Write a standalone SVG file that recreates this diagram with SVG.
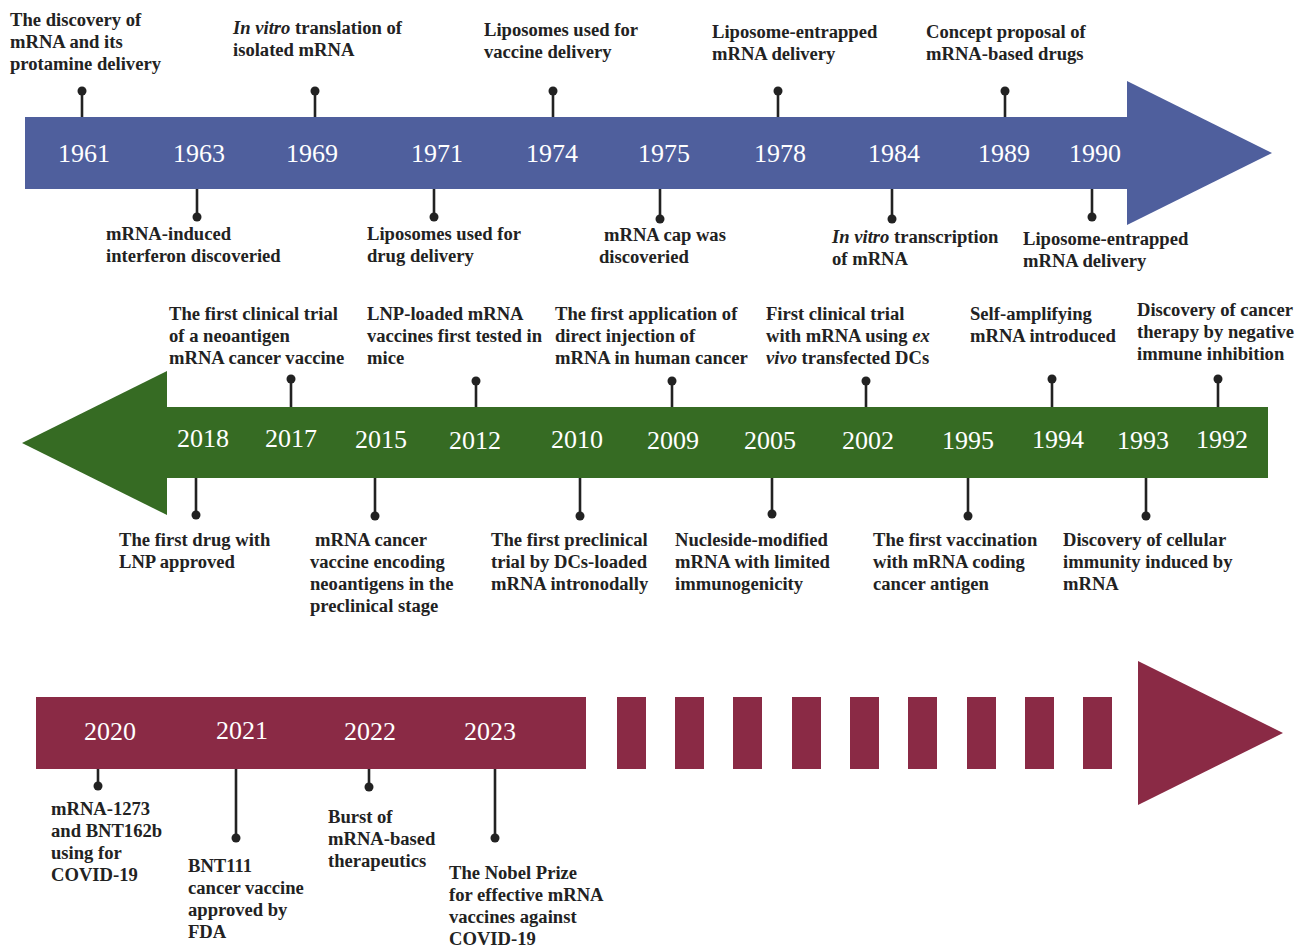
<svg xmlns="http://www.w3.org/2000/svg" width="1306" height="948" viewBox="0 0 1306 948">
<style>
.lbl{font-family:"Liberation Serif","Times New Roman",serif;font-weight:bold;font-size:18.6px;fill:#222}
.yr{font-family:"Liberation Serif","Times New Roman",serif;font-size:26px;fill:#fff;text-anchor:middle}
.pin{stroke:#222;stroke-width:2.6;fill:none}
.dot{fill:#222}
.blue{fill:#4F5F9D}
.green{fill:#366B23}
.maroon{fill:#8A2A45}
</style>
<rect width="1306" height="948" fill="#fff"/>

<g id="arrow-top">
<rect class="blue" x="25" y="117" width="1103" height="72"/>
<polygon class="blue" points="1127,81 1272,153 1127,225"/>
</g>
<g id="arrow-middle">
<rect class="green" x="166" y="407" width="1102" height="71"/>
<polygon class="green" points="167,371 22,443 167,515"/>
</g>
<g id="arrow-bottom">
<rect class="maroon" x="36" y="697" width="550" height="72"/>
<rect class="maroon" x="617" y="697" width="29" height="72"/>
<rect class="maroon" x="675" y="697" width="29" height="72"/>
<rect class="maroon" x="733" y="697" width="29" height="72"/>
<rect class="maroon" x="792" y="697" width="29" height="72"/>
<rect class="maroon" x="850" y="697" width="29" height="72"/>
<rect class="maroon" x="908" y="697" width="29" height="72"/>
<rect class="maroon" x="967" y="697" width="29" height="72"/>
<rect class="maroon" x="1025" y="697" width="29" height="72"/>
<rect class="maroon" x="1083" y="697" width="29" height="72"/>
<polygon class="maroon" points="1138,661 1283,733 1138,805"/>
</g>

<g id="connectors">
<path class="pin" d="M82,117V91 M315,117V91 M553,117V91 M778,117V91 M1005,117V91"/>
<path class="pin" d="M197,189V217 M434,189V217 M660,189V219 M892,189V219 M1092,189V217"/>
<path class="pin" d="M291,407V379 M476,407V381 M672,407V381 M866,407V381 M1052,407V379 M1218,407V379"/>
<path class="pin" d="M196,478V515 M375,478V516 M580,478V516 M772,478V514 M968,478V516 M1146,478V516"/>
<path class="pin" d="M98,769V786 M236,769V838 M369,769V787 M495,769V838"/>
<g class="dot">
<circle cx="82" cy="91" r="4.5"/><circle cx="315" cy="91" r="4.5"/><circle cx="553" cy="91" r="4.5"/><circle cx="778" cy="91" r="4.5"/><circle cx="1005" cy="91" r="4.5"/>
<circle cx="197" cy="217" r="4.5"/><circle cx="434" cy="217" r="4.5"/><circle cx="660" cy="219" r="4.5"/><circle cx="892" cy="219" r="4.5"/><circle cx="1092" cy="217" r="4.5"/>
<circle cx="291" cy="379" r="4.5"/><circle cx="476" cy="381" r="4.5"/><circle cx="672" cy="381" r="4.5"/><circle cx="866" cy="381" r="4.5"/><circle cx="1052" cy="379" r="4.5"/><circle cx="1218" cy="379" r="4.5"/>
<circle cx="196" cy="515" r="4.5"/><circle cx="375" cy="516" r="4.5"/><circle cx="580" cy="516" r="4.5"/><circle cx="772" cy="514" r="4.5"/><circle cx="968" cy="516" r="4.5"/><circle cx="1146" cy="516" r="4.5"/>
<circle cx="98" cy="786" r="4.5"/><circle cx="236" cy="838" r="4.5"/><circle cx="369" cy="787" r="4.5"/><circle cx="495" cy="838" r="4.5"/>
</g>
</g>

<g id="years-top">
<text class="yr" x="84" y="162">1961</text>
<text class="yr" x="199" y="162">1963</text>
<text class="yr" x="312" y="162">1969</text>
<text class="yr" x="437" y="162">1971</text>
<text class="yr" x="552" y="162">1974</text>
<text class="yr" x="664" y="162">1975</text>
<text class="yr" x="780" y="162">1978</text>
<text class="yr" x="894" y="162">1984</text>
<text class="yr" x="1004" y="162">1989</text>
<text class="yr" x="1095" y="162">1990</text>
</g>
<g id="years-middle">
<text class="yr" x="203" y="447">2018</text>
<text class="yr" x="291" y="447">2017</text>
<text class="yr" x="381" y="448">2015</text>
<text class="yr" x="475" y="449">2012</text>
<text class="yr" x="577" y="448">2010</text>
<text class="yr" x="673" y="449">2009</text>
<text class="yr" x="770" y="449">2005</text>
<text class="yr" x="868" y="449">2002</text>
<text class="yr" x="968" y="449">1995</text>
<text class="yr" x="1058" y="448">1994</text>
<text class="yr" x="1143" y="449">1993</text>
<text class="yr" x="1222" y="448">1992</text>
</g>
<g id="years-bottom">
<text class="yr" x="110" y="740">2020</text>
<text class="yr" x="242" y="739">2021</text>
<text class="yr" x="370" y="740">2022</text>
<text class="yr" x="490" y="740">2023</text>
</g>

<g id="n1961"><text class="lbl" x="10" y="26"><tspan x="10">The discovery of</tspan><tspan x="10" dy="22">mRNA and its</tspan><tspan x="10" dy="22">protamine delivery</tspan></text></g>
<g id="n1969"><text class="lbl" x="233" y="34"><tspan x="233"><tspan font-style="italic">In vitro</tspan> translation of</tspan><tspan x="233" dy="22">isolated mRNA</tspan></text></g>
<g id="n1974"><text class="lbl" x="484" y="36"><tspan x="484">Liposomes used for</tspan><tspan x="484" dy="22">vaccine delivery</tspan></text></g>
<g id="n1978"><text class="lbl" x="712" y="38"><tspan x="712">Liposome-entrapped</tspan><tspan x="712" dy="22">mRNA delivery</tspan></text></g>
<g id="n1989"><text class="lbl" x="926" y="38"><tspan x="926">Concept proposal of</tspan><tspan x="926" dy="22">mRNA-based drugs</tspan></text></g>
<g id="n1963"><text class="lbl" x="106" y="240"><tspan x="106">mRNA-induced</tspan><tspan x="106" dy="22">interferon discoveried</tspan></text></g>
<g id="n1971"><text class="lbl" x="367" y="240"><tspan x="367">Liposomes used for</tspan><tspan x="367" dy="22">drug delivery</tspan></text></g>
<g id="n1975"><text class="lbl" x="604" y="241"><tspan x="604">mRNA cap was</tspan><tspan x="599" dy="22">discoveried</tspan></text></g>
<g id="n1984"><text class="lbl" x="832" y="243"><tspan x="832"><tspan font-style="italic">In vitro</tspan> transcription</tspan><tspan x="832" dy="22">of mRNA</tspan></text></g>
<g id="n1990"><text class="lbl" x="1023" y="245"><tspan x="1023">Liposome-entrapped</tspan><tspan x="1023" dy="22">mRNA delivery</tspan></text></g>

<g id="n2017"><text class="lbl" x="169" y="320"><tspan x="169">The first clinical trial</tspan><tspan x="169" dy="22">of a neoantigen</tspan><tspan x="169" dy="22">mRNA cancer vaccine</tspan></text></g>
<g id="n2012"><text class="lbl" x="367" y="320"><tspan x="367">LNP-loaded mRNA</tspan><tspan x="367" dy="22">vaccines first tested in</tspan><tspan x="367" dy="22">mice</tspan></text></g>
<g id="n2009"><text class="lbl" x="555" y="320"><tspan x="555">The first application of</tspan><tspan x="555" dy="22">direct injection of</tspan><tspan x="555" dy="22">mRNA in human cancer</tspan></text></g>
<g id="n2002"><text class="lbl" x="766" y="320"><tspan x="766">First clinical trial</tspan><tspan x="766" dy="22">with mRNA using <tspan font-style="italic">ex</tspan></tspan><tspan x="766" dy="22"><tspan font-style="italic">vivo</tspan> transfected DCs</tspan></text></g>
<g id="n1994"><text class="lbl" x="970" y="320"><tspan x="970">Self-amplifying</tspan><tspan x="970" dy="22">mRNA introduced</tspan></text></g>
<g id="n1992"><text class="lbl" x="1137" y="316"><tspan x="1137">Discovery of cancer</tspan><tspan x="1137" dy="22">therapy by negative</tspan><tspan x="1137" dy="22">immune inhibition</tspan></text></g>

<g id="n2018"><text class="lbl" x="119" y="546"><tspan x="119">The first drug with</tspan><tspan x="119" dy="22">LNP approved</tspan></text></g>
<g id="n2015"><text class="lbl" x="315" y="546"><tspan x="315">mRNA cancer</tspan><tspan x="310" dy="22">vaccine encoding</tspan><tspan x="310" dy="22">neoantigens in the</tspan><tspan x="310" dy="22">preclinical stage</tspan></text></g>
<g id="n2010"><text class="lbl" x="491" y="546"><tspan x="491">The first preclinical</tspan><tspan x="491" dy="22">trial by DCs-loaded</tspan><tspan x="491" dy="22">mRNA intronodally</tspan></text></g>
<g id="n2005"><text class="lbl" x="675" y="546"><tspan x="675">Nucleside-modified</tspan><tspan x="675" dy="22">mRNA with limited</tspan><tspan x="675" dy="22">immunogenicity</tspan></text></g>
<g id="n1995"><text class="lbl" x="873" y="546"><tspan x="873">The first vaccination</tspan><tspan x="873" dy="22">with mRNA coding</tspan><tspan x="873" dy="22">cancer antigen</tspan></text></g>
<g id="n1993"><text class="lbl" x="1063" y="546"><tspan x="1063">Discovery of cellular</tspan><tspan x="1063" dy="22">immunity induced by</tspan><tspan x="1063" dy="22">mRNA</tspan></text></g>

<g id="n2020"><text class="lbl" x="51" y="815"><tspan x="51">mRNA-1273</tspan><tspan x="51" dy="22">and BNT162b</tspan><tspan x="51" dy="22">using for</tspan><tspan x="51" dy="22">COVID-19</tspan></text></g>
<g id="n2021"><text class="lbl" x="188" y="872"><tspan x="188">BNT111</tspan><tspan x="188" dy="22">cancer vaccine</tspan><tspan x="188" dy="22">approved by</tspan><tspan x="188" dy="22">FDA</tspan></text></g>
<g id="n2022"><text class="lbl" x="328" y="823"><tspan x="328">Burst of</tspan><tspan x="328" dy="22">mRNA-based</tspan><tspan x="328" dy="22">therapeutics</tspan></text></g>
<g id="n2023"><text class="lbl" x="449" y="879"><tspan x="449">The Nobel Prize</tspan><tspan x="449" dy="22">for effective mRNA</tspan><tspan x="449" dy="22">vaccines against</tspan><tspan x="449" dy="22">COVID-19</tspan></text></g>
</svg>
